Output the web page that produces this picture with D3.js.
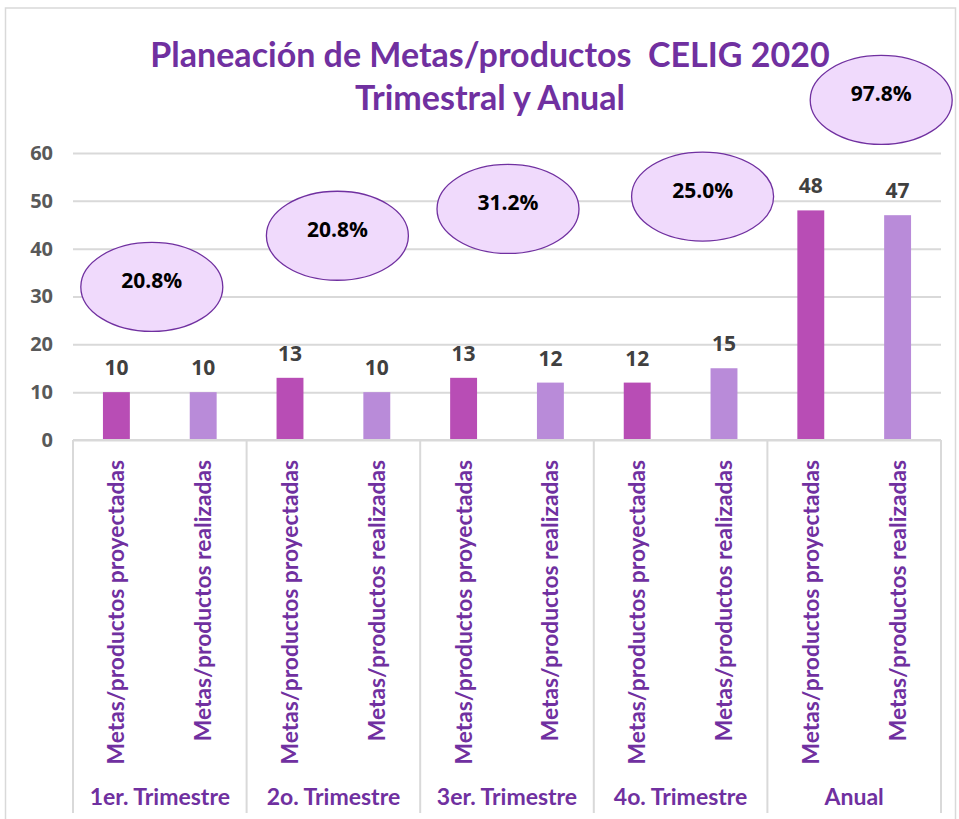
<!DOCTYPE html>
<html>
<head>
<meta charset="utf-8">
<script src="https://cdn.jsdelivr.net/npm/d3@7"></script>
<style>
    html, body { margin: 0; padding: 0; background: #fff; }
    #chart { width: 959px; height: 819px; }
</style>
</head>
<body>
<div id="chart"></div>
<script>
// data
const groups = ["1er. Trimestre", "2o. Trimestre", "3er. Trimestre", "4o. Trimestre", "Anual"];
const series = ["Metas/productos proyectadas", "Metas/productos realizadas"];
const proyectadas = [10, 13, 13, 12, 48];
const realizadas = [10, 10, 12, 15, 47];
const yTicks = [0, 10, 20, 30, 40, 50, 60];

// percentage call-outs (ellipses)
const pctLabels = ["20.8%", "20.8%", "31.2%", "25.0%", "97.8%"];
const pctLevel = [32, 42.7, 48.3, 50.9, 71.1];   // centre, in axis units
const pctShift = [-8, 4, 1, 22, 27];             // px from group centre

const purple = "#7030a0";
const colors = {"Metas/productos proyectadas": "#b84db5", "Metas/productos realizadas": "#b98bd9"};
const numFont = "'Open Sans', sans-serif";

let svg = d3.select("#chart").append("svg")
    .attr("width", 959)
    .attr("height", 819);

// outer frame
svg.append("rect")
    .attr("x", 5.5).attr("y", 8)
    .attr("width", 950).attr("height", 830)
    .attr("fill", "none")
    .attr("stroke", "#d9d9d9")
    .attr("stroke-width", 1.5);

// title
let title = svg.append("text")
    .attr("text-anchor", "middle")
    .attr("fill", purple)
    .style("font-family", "Lato, sans-serif")
    .style("font-weight", "bold")
    .style("font-size", "34px")
    .style("white-space", "pre");
title.append("tspan").attr("x", 490).attr("y", 67).text("Planeación de Metas/productos  CELIG 2020");
title.append("tspan").attr("x", 490).attr("y", 110).text("Trimestral y Anual");

// scales
let y = d3.scaleLinear().domain([0, 60]).range([440, 153]);
let x0 = d3.scaleBand().domain(groups).range([73, 941]);
let x1 = d3.scaleBand().domain(series).range([0, x0.bandwidth()])
    .paddingInner(0.69).paddingOuter(0.345);

// gridlines + y labels
let yAxis = d3.axisLeft(y).tickValues(yTicks).tickSize(-(941 - 73)).tickPadding(20);
let gy = svg.append("g").attr("transform", "translate(73,0)").call(yAxis);
gy.select(".domain").remove();
gy.selectAll(".tick line").attr("stroke", "#d9d9d9").attr("stroke-width", 2);
gy.selectAll(".tick text")
    .attr("fill", "#595959")
    .style("font-family", numFont)
    .style("font-weight", "bold")
    .style("font-size", "20px");

// bars
let rows = [];
groups.forEach((g, i) => {
    rows.push({group: g, serie: series[0], value: proyectadas[i]});
    rows.push({group: g, serie: series[1], value: realizadas[i]});
});

svg.selectAll(".bar")
    .data(rows)
    .enter().append("rect")
    .attr("class", "bar")
    .attr("x", d => x0(d.group) + x1(d.serie))
    .attr("y", d => y(d.value))
    .attr("width", x1.bandwidth())
    .attr("height", d => y(0) - y(d.value))
    .attr("fill", d => colors[d.serie]);

// value labels
svg.selectAll(".val")
    .data(rows)
    .enter().append("text")
    .attr("class", "val")
    .attr("x", d => x0(d.group) + x1(d.serie) + x1.bandwidth() / 2)
    .attr("y", d => y(d.value) - 17)
    .attr("text-anchor", "middle")
    .attr("fill", "#404040")
    .style("font-family", numFont)
    .style("font-weight", "bold")
    .style("font-size", "21px")
    .text(d => d.value);

// category axis box
let axisG = svg.append("g");
axisG.append("line")
    .attr("x1", 73).attr("x2", 941)
    .attr("y1", y(0)).attr("y2", y(0))
    .attr("stroke", "#d9d9d9").attr("stroke-width", 2);
axisG.selectAll(".sep")
    .data(groups.concat(["end"]))
    .enter().append("line")
    .attr("class", "sep")
    .attr("x1", (d, i) => i < groups.length ? x0(d) : x0.range()[1])
    .attr("x2", (d, i) => i < groups.length ? x0(d) : x0.range()[1])
    .attr("y1", y(0)).attr("y2", 813)
    .attr("stroke", "#d9d9d9").attr("stroke-width", 2);

// rotated series labels
axisG.selectAll(".cat")
    .data(rows)
    .enter().append("text")
    .attr("class", "cat")
    .attr("transform", d => `translate(${x0(d.group) + x1(d.serie) + x1.bandwidth() / 2 + 8}, 460) rotate(-90)`)
    .attr("text-anchor", "end")
    .attr("fill", purple)
    .style("font-family", "Lato, sans-serif")
    .style("font-weight", "bold")
    .style("font-size", "22.8px")
    .text(d => d.serie);

// group labels
axisG.selectAll(".grp")
    .data(groups)
    .enter().append("text")
    .attr("class", "grp")
    .attr("x", d => x0(d) + x0.bandwidth() / 2)
    .attr("y", 805)
    .attr("text-anchor", "middle")
    .attr("fill", purple)
    .style("font-family", "Lato, sans-serif")
    .style("font-weight", "bold")
    .style("font-size", "23px")
    .text(d => d);

// percentage ellipses
let callouts = svg.selectAll(".callout")
    .data(groups)
    .enter().append("g")
    .attr("class", "callout")
    .attr("transform", (d, i) => `translate(${x0(d) + x0.bandwidth() / 2 + pctShift[i]}, ${y(pctLevel[i])})`);

callouts.append("ellipse")
    .attr("rx", 71)
    .attr("ry", 44.5)
    .attr("fill", "#f0dafc")
    .attr("stroke", purple)
    .attr("stroke-width", 1.3);

callouts.append("text")
    .attr("y", 1)
    .attr("text-anchor", "middle")
    .attr("fill", "#000")
    .style("font-family", numFont)
    .style("font-weight", "bold")
    .style("font-size", "21px")
    .text((d, i) => pctLabels[i]);
</script>
</body>
</html>
